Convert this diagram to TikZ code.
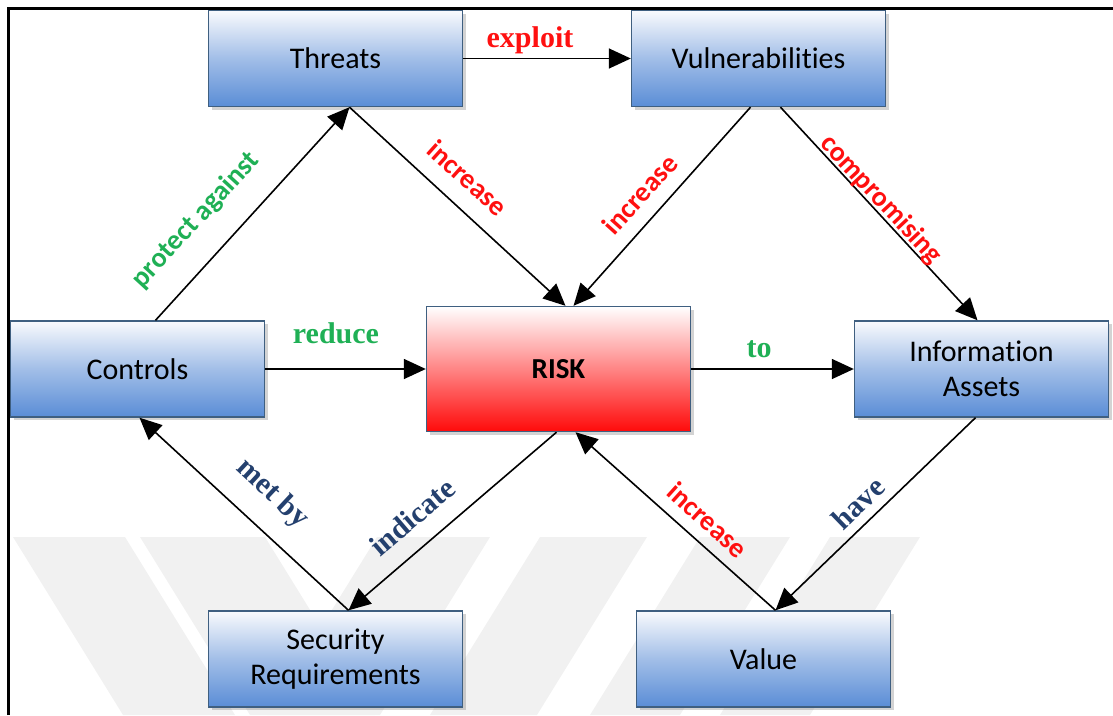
\documentclass[tikz,border=0pt]{standalone}
\usepackage{fontspec}
\setmainfont{Liberation Serif}
\newfontfamily\boxfont[Ligatures=NoCommon]{Carlito}
\usetikzlibrary{arrows.meta,shadows}

\definecolor{boxtop}{HTML}{F9FAFD}
\definecolor{boxbot}{HTML}{5A8DD6}
\definecolor{boxline}{HTML}{3F5F80}
\definecolor{riskbot}{HTML}{FF0A0A}
\definecolor{lblred}{HTML}{FF1010}
\definecolor{lblgreen}{HTML}{1FB055}
\definecolor{lblblue}{HTML}{24406E}
\definecolor{wmark}{HTML}{F1F1F1}

\begin{document}
\begin{tikzpicture}[x=1pt,y=-1pt,
  box/.style={draw=boxline, line width=1.4pt, shading=axis,
    top color=boxtop, bottom color=boxbot, middle color=boxtop!45!boxbot,
    minimum width=254pt, minimum height=96pt, inner sep=2pt,
    align=center, text=black,
    font=\boxfont\fontsize{30}{35}\selectfont,
    drop shadow={shadow xshift=3pt, shadow yshift=-3pt, opacity=0.35}},
  riskbox/.style={box, top color=white, middle color=riskbot!40,
    bottom color=riskbot, minimum width=264pt, minimum height=125pt,
    font=\boxfont\bfseries\fontsize{29}{35}\selectfont},
  conn/.style={line width=1.6pt, -{Triangle[length=22pt,width=20pt]}},
  sanslbl/.style={font=\boxfont\bfseries\fontsize{28}{30}\selectfont},
  seriflbl/.style={font=\bfseries\fontsize{30}{32}\selectfont},
]
\useasboundingbox (0,0) rectangle (1113,715);

% faint chevron watermark behind the diagram
\begin{scope}[fill=wmark]
  \fill (13,537) -- (125,537) -- (235,715) -- (123,715) -- cycle;
  \fill (140,537) -- (265,537) -- (375,715) -- (250,715) -- cycle;
  \fill (377,537) -- (490,537) -- (380,715) -- (267,715) -- cycle;
  \fill (540,537) -- (647,537) -- (537,715) -- (430,715) -- cycle;
  \fill (700,537) -- (790,537) -- (680,715) -- (590,715) -- cycle;
  \fill (830,537) -- (920,537) -- (810,715) -- (720,715) -- cycle;
\end{scope}

% page frame
\draw[line width=3pt] (8,715) -- (8,8) -- (1113,8);

% boxes
\node[box] (threats) at (335.5,58.5) {Threats};
\node[box] (vuln)    at (758.5,58.5) {Vulnerabilities};
\node[box] (ctrl)    at (137.5,369)  {Controls};
\node[riskbox] (risk) at (558.5,369) {RISK};
\node[box] (info)    at (981.5,369)  {Information\\Assets};
\node[box] (secreq)  at (335.5,659)  {Security\\Requirements};
\node[box] (value)   at (763.5,659)  {Value};

% connectors
\draw[conn] (threats.east) -- (vuln.west);
\draw[conn] ([xshift=14pt]threats.south) -- ([xshift=7pt]risk.north);
\draw[conn] ([xshift=-8pt]vuln.south) -- ([xshift=15pt]risk.north);
\draw[conn] ([xshift=22pt]vuln.south) -- ([xshift=-4pt]info.north);
\draw[conn] ([xshift=18pt]ctrl.north) -- ([xshift=14pt]threats.south);
\draw[conn] (ctrl.east) -- (risk.west);
\draw[conn] (risk.east) -- (info.west);
\draw[conn] ([xshift=-6pt]info.south) -- ([xshift=12pt]value.north);
\draw[conn] ([xshift=12pt]value.north) -- ([xshift=17pt]risk.south);
\draw[conn] ([xshift=-2pt]risk.south) -- ([xshift=13pt]secreq.north);
\draw[conn] ([xshift=13pt]secreq.north) -- ([xshift=2pt]ctrl.south);

% connector labels
\node[seriflbl, text=lblred]   (lexploit)  at (530,40)  {exploit};
\node[sanslbl, text=lblred, rotate=-42]   (lincA) at (468,178) {increase};
\node[sanslbl, text=lblred, rotate=48]    (lincB) at (640,194) {increase};
\node[sanslbl, text=lblred, rotate=-47]   (lcomp) at (881,200) {compromising};
\node[sanslbl, text=lblgreen, rotate=47.5] (lprot) at (196,220) {protect against};
\node[seriflbl, text=lblgreen] (lreduce) at (336,333) {reduce};
\node[seriflbl, text=lblgreen] (lto)     at (759,349) {to};
\node[seriflbl, text=lblblue, rotate=-43]  (lmet)  at (272,494) {met by};
\node[seriflbl, text=lblblue, rotate=40.5] (lind)  at (412,517) {indicate};
\node[sanslbl, text=lblred, rotate=-42]    (lincC) at (708,520) {increase};
\node[seriflbl, text=lblblue, rotate=44]   (lhave) at (858,503) {have};
\end{tikzpicture}
\end{document}
